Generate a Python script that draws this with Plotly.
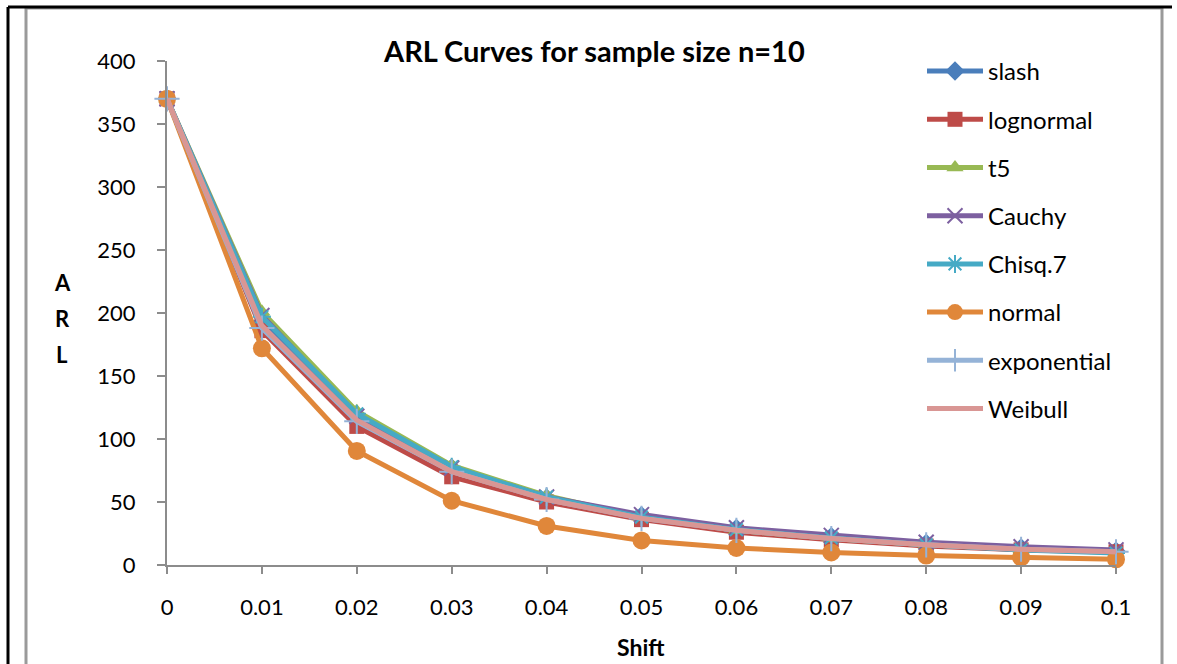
import plotly.graph_objects as go

# Shift values (x axis)
shift = [0, 0.01, 0.02, 0.03, 0.04, 0.05, 0.06, 0.07, 0.08, 0.09, 0.1]
x_tick_labels = ["0", "0.01", "0.02", "0.03", "0.04", "0.05", "0.06", "0.07", "0.08", "0.09", "0.1"]

# ARL values per distribution
slash = [370, 193, 119, 77, 53, 39, 29, 22.5, 17, 13.5, 11]
lognormal = [370, 186, 110, 70, 50, 36, 26, 20, 15, 12, 10.5]
t5 = [370, 201, 122, 79, 55, 38, 27.5, 21, 16, 12.5, 10]
cauchy = [370, 198, 118, 77, 54, 40, 29.5, 23.5, 18, 14.5, 12]
chisq7 = [370, 197, 120, 78, 54, 38, 28, 21.5, 16, 12, 9.5]
normal = [370, 172, 90.5, 51, 31, 19.5, 13.5, 10, 7.5, 6, 4.5]
exponential = [370, 188, 114, 74, 52, 37, 27.5, 21, 16, 12.5, 10.5]
weibull = [370, 190, 115, 74, 52, 37, 27.5, 21, 16, 12.5, 10.5]

W, H = 1177, 664
L, R, T, B = 167, 61, 61, 99
FONT = "Lato"

series = [
    ("slash", slash, "#4A7EBB", dict(symbol="diamond", size=15)),
    ("lognormal", lognormal, "#BE4B48", dict(symbol="square", size=15)),
    ("t5", t5, "#98B954", dict(symbol="triangle-up", size=15)),
    ("Cauchy", cauchy, "#7D60A0", dict(symbol="x-thin", size=15, line=dict(width=2, color="#7D60A0"))),
    ("Chisq.7", chisq7, "#46AAC5", dict(symbol="asterisk", size=15, line=dict(width=2, color="#46AAC5"))),
    ("normal", normal, "#E0873A", dict(symbol="circle", size=18)),
    ("exponential", exponential, "#95B3D7", dict(symbol="cross-thin", size=18, line=dict(width=2, color="#95B3D7"))),
    ("Weibull", weibull, "#D99694", None),
]

fig = go.Figure()
for i, (name, vals, color, mk) in enumerate(series):
    marker = dict(color=color, **mk) if mk else None
    fig.add_trace(go.Scatter(
        x=shift, y=vals, name=name, legendgroup=f"g{i}",
        mode="lines+markers" if mk else "lines",
        line=dict(color=color, width=5),
        marker=marker,
        cliponaxis=False,
    ))

pw = W - L - R
ph = H - T - B

def px(xp):
    return (xp - L) / pw

def py(yp):
    return (H - B - yp) / ph

shapes = [
    # gray chart frame
    dict(type="rect", xref="paper", yref="paper", x0=px(26), x1=px(1162), y0=py(672), y1=py(8),
         line=dict(color="#9A9A9A", width=3), fillcolor="rgba(0,0,0,0)", layer="below"),
    # black outer lines
    dict(type="line", xref="paper", yref="paper", x0=px(8), x1=px(1172), y0=py(7), y1=py(7),
         line=dict(color="black", width=3)),
    dict(type="line", xref="paper", yref="paper", x0=px(8), x1=px(8), y0=py(7), y1=py(672),
         line=dict(color="black", width=3)),
]

def label(text, x, y, size):
    return dict(text=text, xref="paper", yref="paper", x=px(x), y=py(y), showarrow=False,
                xanchor="center", yanchor="middle",
                font=dict(size=size, family=FONT, color="black"))

annotations = [
    label("<b>ARL Curves for sample size n=10</b>", 594, 50, 29),
    label("<b>A</b>", 62, 282, 22),
    label("<b>R</b>", 62, 318, 22),
    label("<b>L</b>", 62, 355, 22),
    label("<b>Shift</b>", 641, 647, 23),
]

fig.update_layout(
    width=W, height=H,
    margin=dict(l=L, r=R, t=T, b=B, autoexpand=False),
    paper_bgcolor="white", plot_bgcolor="white",
    font=dict(family=FONT, size=22, color="black"),
    shapes=shapes, annotations=annotations,
    showlegend=True,
    legend=dict(x=px(922), y=py(49), xanchor="left", yanchor="top",
                font=dict(size=24, family=FONT, color="black"),
                traceorder="grouped", tracegroupgap=14, itemwidth=56,
                maxheight=600,
                bgcolor="rgba(0,0,0,0)"),
    xaxis=dict(range=[0, 0.1], tickvals=shift, ticktext=x_tick_labels,
               showgrid=False, zeroline=False, showline=True, linecolor="#8C8C8C", linewidth=2,
               ticks="outside", ticklen=7, tickcolor="#8C8C8C", tickwidth=2,
               tickfont=dict(size=22, family=FONT), ticklabelstandoff=15),
    yaxis=dict(range=[0, 400], tickvals=[0, 50, 100, 150, 200, 250, 300, 350, 400],
               showgrid=False, zeroline=False, showline=True, linecolor="#8C8C8C", linewidth=2,
               ticks="outside", ticklen=8, tickcolor="#8C8C8C", tickwidth=2,
               tickfont=dict(size=22, family=FONT), ticklabelstandoff=17),
)

fig.write_html("out.html")
